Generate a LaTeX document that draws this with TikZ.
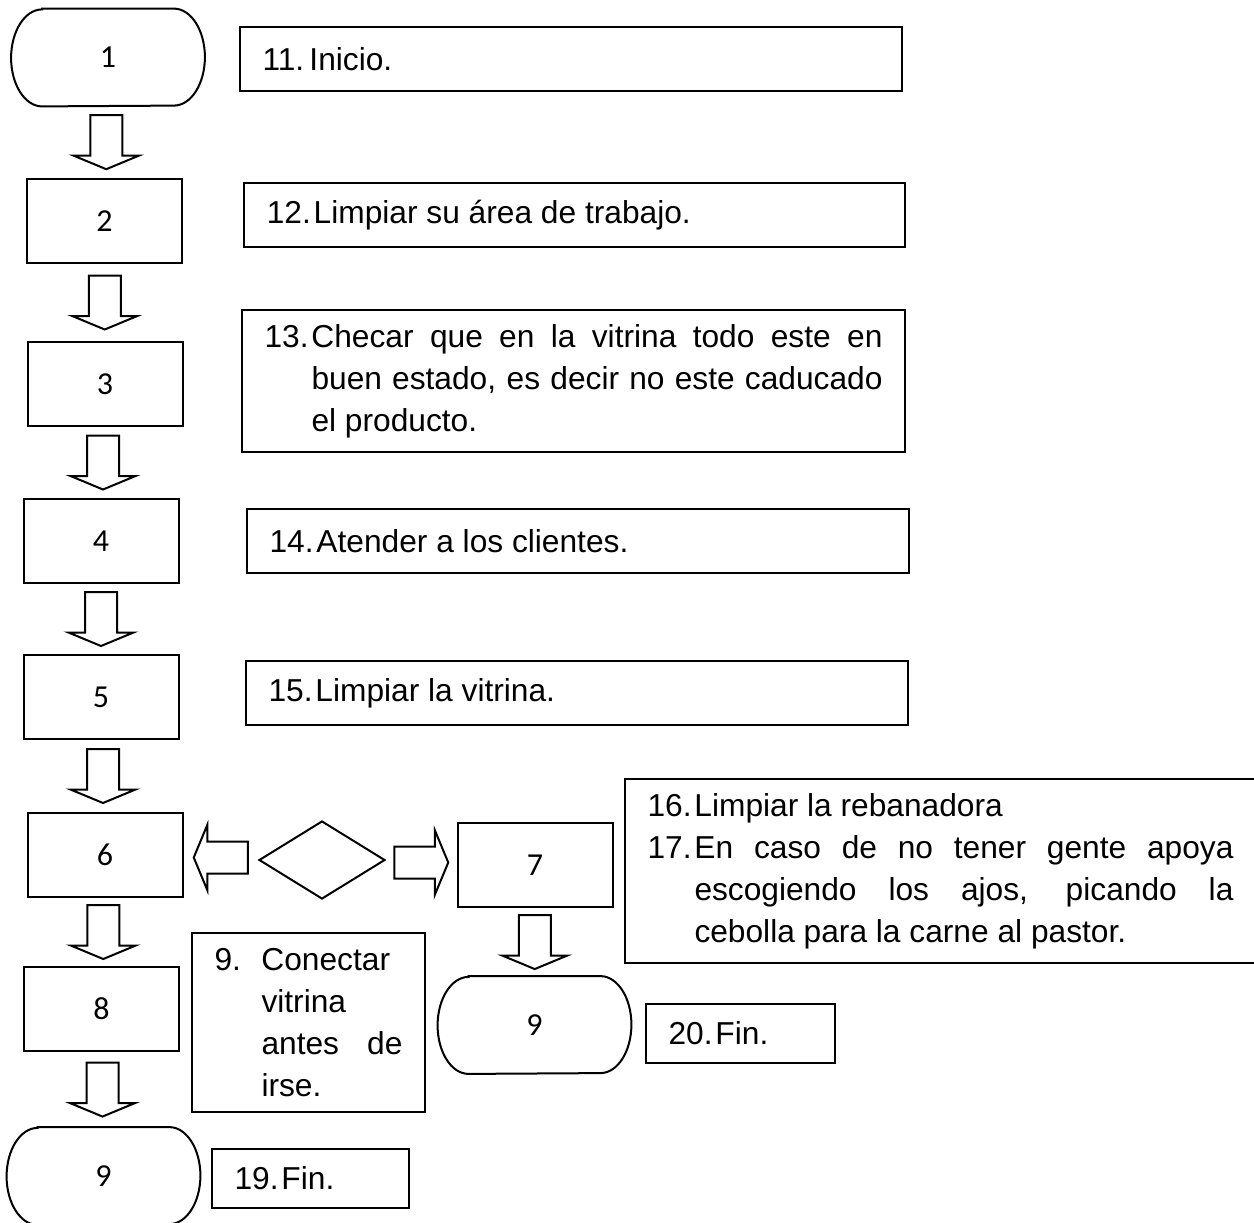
\documentclass[tikz,border=0pt]{standalone}
\usepackage{fontspec}
\setmainfont{Liberation Sans}
\newfontfamily\calibri{Carlito}
\usetikzlibrary{calc,shapes.geometric}
\hyphenpenalty=10000
\exhyphenpenalty=10000
\tolerance=10000

\newcommand{\punto}[2]{\noindent\hangindent=23.5pt\hangafter=1\makebox[23.5pt][l]{#1}#2\par}
\newcommand{\contorno}[1]{\draw[linea] ([xshift=15.5pt]#1.north west) -- ([xshift=-15.5pt]#1.north east) arc[start angle=90, end angle=-90, x radius=15.5pt, y radius=24.25pt] -- ([xshift=15.5pt]#1.south west) arc[start angle=270, end angle=90, x radius=15.5pt, y radius=24.25pt] -- cycle;}
\newcommand{\flecha}{\draw[linea] ($(bb)!8pt!90:(bt)$) -- ($(bh)!8pt!90:(bt)$) -- ($(bh)!16.25pt!90:(bt)$) -- (bt) -- ($(bh)!16.25pt!-90:(bt)$) -- ($(bh)!8pt!-90:(bt)$) -- ($(bb)!8pt!-90:(bt)$) -- cycle;}
\newcommand{\bajar}[2]{\coordinate (bm) at ($(#1)!0.5!(#2)$);
	\coordinate (bb) at ($(bm)!-13.5pt!(bm |- #2)$);
	\coordinate (bh) at ($(bm)!6.75pt!(bm |- #2)$);
	\coordinate (bt) at ($(bm)!13.5pt!(bm |- #2)$);
	\flecha}
\newcommand{\lado}[2]{\coordinate (bm) at ($(#1)!0.5!(#2)$);
	\coordinate (bb) at ($(bm)!-13.5pt!(bm -| #2)$);
	\coordinate (bh) at ($(bm)!6.75pt!(bm -| #2)$);
	\coordinate (bt) at ($(bm)!13.5pt!(bm -| #2)$);
	\flecha}

\begin{document}
\begin{tikzpicture}[x=0.5pt, y=-0.5pt, linea/.style={line width=1pt}, paso/.style={draw, linea, minimum width=77.5pt, minimum height=42pt, inner sep=0pt, font=\calibri\fontsize{16}{18}\selectfont}, fin/.style={minimum width=96.5pt, minimum height=48.5pt, inner sep=0pt, font=\calibri\fontsize{16}{18}\selectfont}, caja/.style={draw, linea, inner xsep=11.25pt, inner ysep=0pt, align=justify, font=\fontsize{15.85}{21}\selectfont}, rombo/.style={diamond, draw, linea, minimum width=63pt, minimum height=39pt, inner sep=0pt}]
		\useasboundingbox (0,0) rectangle (1254,1222);
		\node[fin] (t1) at (108,57.5) {1};
		\contorno{t1}
		\node[paso] (n2) at (104.5,221) {2};
		\node[paso] (n3) at (105,384) {3};
		\node[paso] (n4) at (101,541) {4};
		\node[paso] (n5) at (101,697) {5};
		\node[paso] (n6) at (105,855) {6};
		\node[rombo] (dia) at (322,860) {};
		\node[paso] (n7) at (535,865) {7};
		\node[paso] (n8) at (101.5,1009) {8};
		\node[fin] (t9a) at (103.5,1176) {9};
		\contorno{t9a}
		\node[fin] (t9b) at (534.5,1025) {9};
		\contorno{t9b}

		\node[caja, text width=308.5pt, minimum height=32pt] (b11) at (571,59) {\punto{11.}{Inicio.}};
		\node[caja, text width=307.75pt, minimum height=32pt] (b12) at (574.5,215) {\punto{12.}{Limpiar su área de trabajo.}};
		\node[caja, text width=309pt, minimum height=71pt] (b13) at (573.5,381) {\punto{13.}{Checar que en la vitrina todo este en buen estado, es decir no este caducado el producto.}};
		\node[caja, text width=308.5pt, minimum height=32pt] (b14) at (578,541) {\punto{14.}{Atender a los clientes.}};
		\node[caja, text width=308.5pt, minimum height=32pt] (b15) at (577,693) {\punto{15.}{Limpiar la vitrina.}};
		\node[caja, text width=293pt, minimum height=92pt] (b16) at (940.5,871) {\punto{16.}{Limpiar la rebanadora}\punto{17.}{En caso de no tener gente apoya escogiendo los ajos, picando la\linebreak cebolla para la carne al pastor.}};
		\node[caja, text width=94pt, minimum height=89.5pt] (bc) at (308.5,1022.5) {\punto{9.}{Conectar vitrina antes de irse.}};
		\node[caja, text width=76pt, minimum height=29.5pt] (b19) at (310.5,1178.5) {\punto{19.}{Fin.}};
		\node[caja, text width=72pt, minimum height=29.5pt] (b20) at (740.5,1033.5) {\punto{20.}{Fin.}};

		\bajar{t1.south}{n2.north}
		\bajar{n2.south}{n3.north}
		\bajar{n3.south}{n4.north}
		\bajar{n4.south}{n5.north}
		\bajar{n5.south}{n6.north}
		\bajar{n6.south}{n8.north}
		\bajar{n8.south}{t9a.north}
		\bajar{n7.south}{t9b.north}
		\lado{dia.west}{n6.east}
		\lado{dia.east}{n7.west}
	\end{tikzpicture}
\end{document}
